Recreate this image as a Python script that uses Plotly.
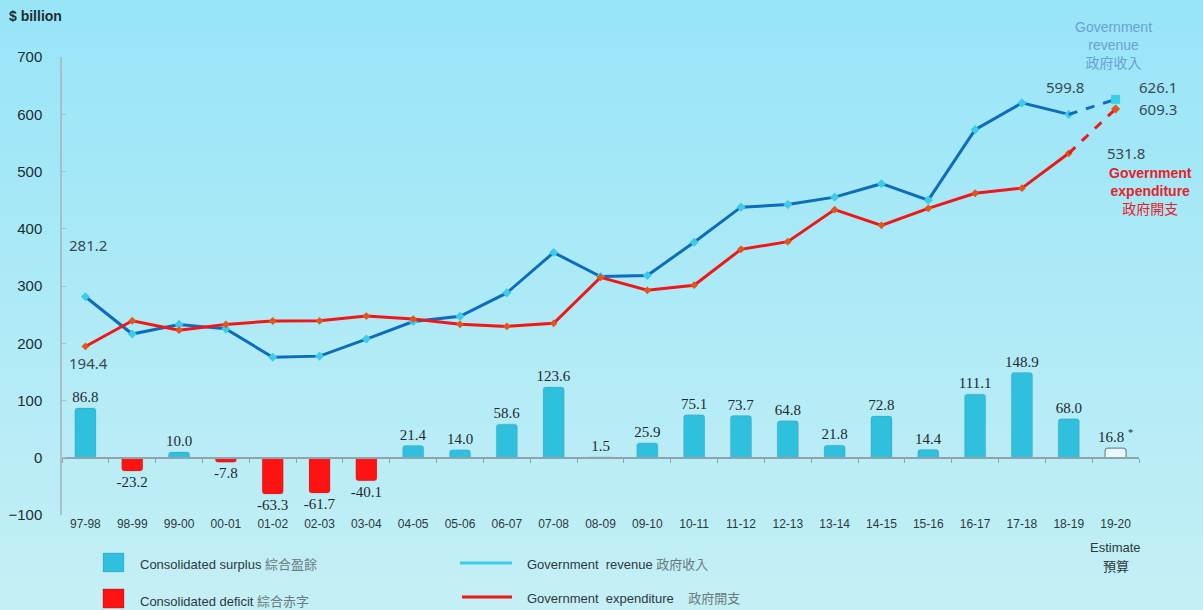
import plotly.graph_objects as go

# ---------------- data ----------------
categories = ["97-98", "98-99", "99-00", "00-01", "01-02", "02-03", "03-04", "04-05",
              "05-06", "06-07", "07-08", "08-09", "09-10", "10-11", "11-12", "12-13",
              "13-14", "14-15", "15-16", "16-17", "17-18", "18-19", "19-20"]
revenue = [281.2, 216.1, 232.9, 225.1, 175.6, 177.5, 207.3, 238.0, 247.0, 288.0,
           358.5, 316.6, 318.4, 376.5, 437.7, 442.2, 455.2, 478.7, 450.0, 573.1,
           619.8, 599.8, 626.1]
expenditure = [194.4, 239.3, 222.9, 232.9, 238.9, 239.2, 247.4, 242.2, 233.0, 229.4,
               234.8, 315.1, 292.5, 301.4, 364.0, 377.4, 433.4, 405.9, 435.6, 462.0,
               470.9, 531.8, 609.3]
balance = [86.8, -23.2, 10.0, -7.8, -63.3, -61.7, -40.1, 21.4, 14.0, 58.6, 123.6, 1.5,
           25.9, 75.1, 73.7, 64.8, 21.8, 72.8, 14.4, 111.1, 148.9, 68.0, 16.8]
y_ticks = [-100, 0, 100, 200, 300, 400, 500, 600, 700]

# ---------------- geometry helpers ----------------
W, H = 1203, 610
ML, MR, MT, MB = 62, 64, 57, 95
PW, PH = W - ML - MR, H - MT - MB


def px(x):
    return (x - ML) / PW


def py(y):
    return (H - MB - y) / PH


n = len(categories)
last = n - 1

SURPLUS = "#2fc0de"
DEFICIT = "#ff1212"
REV_LINE = "#0b6dbb"
EXP_LINE = "#ef1717"
REV_MK = "#3ccbe8"
EXP_MK = "#e0561c"
LBL = "#3a4a52"
SANS = "Liberation Sans, Arial, sans-serif"
CJK = "Noto Sans CJK TC"

bar_colors = []
bar_lines = []
for i, v in enumerate(balance):
    if i == last:
        bar_colors.append("#eaf9fc")
        bar_lines.append("#6f8e96")
    else:
        bar_colors.append(SURPLUS if v >= 0 else DEFICIT)
        bar_lines.append("rgba(0,0,0,0.08)")
bar_text = [f"{v:.1f}" for v in balance]
bar_text[last] = bar_text[last] + " <sup>*</sup>"

fig = go.Figure()

# background gradient
top = (152, 229, 248)
bot = (196, 239, 245)
bands = 40
y_lo, y_hi = -MB / PH, 1 + MT / PH
for k in range(bands):
    t = k / (bands - 1)
    c = tuple(round(top[j] + (bot[j] - top[j]) * t) for j in range(3))
    fig.add_shape(type="rect", xref="paper", yref="paper",
                  x0=-ML / PW - 0.01, x1=1 + MR / PW + 0.01,
                  y1=y_hi - (y_hi - y_lo) * k / bands,
                  y0=y_hi - (y_hi - y_lo) * (k + 1) / bands - 0.002,
                  fillcolor=f"rgb{c}", line_width=0, layer="below")

# bars
fig.add_trace(go.Bar(
    x=categories, y=balance, width=0.45,
    marker=dict(color=bar_colors, line=dict(color=bar_lines, width=1.2), cornerradius=3),
    text=bar_text, textposition="outside", constraintext="none", cliponaxis=False,
    textfont=dict(family="Liberation Serif, Times New Roman, serif", size=15, color="#1c2a30"),
    showlegend=False, hoverinfo="skip"))

# revenue line (actual, solid) + estimate (dashed)
fig.add_trace(go.Scatter(
    x=categories[:last], y=revenue[:last], mode="lines+markers",
    line=dict(color=REV_LINE, width=3),
    marker=dict(color=REV_MK, size=7, symbol="diamond"),
    showlegend=False, hoverinfo="skip"))
fig.add_trace(go.Scatter(
    x=categories[last - 1:], y=revenue[last - 1:], mode="lines",
    line=dict(color=REV_LINE, width=3, dash="dash"),
    showlegend=False, hoverinfo="skip"))
fig.add_trace(go.Scatter(
    x=categories[last:], y=revenue[last:], mode="markers",
    marker=dict(color=REV_MK, size=9, symbol="square"),
    showlegend=False, hoverinfo="skip"))

# expenditure line
fig.add_trace(go.Scatter(
    x=categories[:last], y=expenditure[:last], mode="lines+markers",
    line=dict(color=EXP_LINE, width=3),
    marker=dict(color=EXP_MK, size=6, symbol="diamond"),
    showlegend=False, hoverinfo="skip"))
fig.add_trace(go.Scatter(
    x=categories[last - 1:], y=expenditure[last - 1:], mode="lines",
    line=dict(color=EXP_LINE, width=3, dash="dash"),
    showlegend=False, hoverinfo="skip"))
fig.add_trace(go.Scatter(
    x=categories[last:], y=expenditure[last:], mode="markers",
    marker=dict(color=EXP_MK, size=7, symbol="diamond"),
    showlegend=False, hoverinfo="skip"))

# invisible trace carrying the zero-line axis (boundary ticks)
fig.add_trace(go.Scatter(x=categories, y=balance, mode="none", xaxis="x2",
                         showlegend=False, hoverinfo="skip"))

ann = []
lab_font = dict(family="Noto Sans, sans-serif", size=15, color=LBL)


def vlabel(idx, series, dx, dy):
    ann.append(dict(x=categories[idx], y=series[idx], xref="x", yref="y",
                    text=f"{series[idx]:.1f}", showarrow=False,
                    xshift=dx, yshift=dy, font=lab_font))


vlabel(0, revenue, 3, 52)
vlabel(0, expenditure, 3, -17)
vlabel(last - 1, revenue, -4, 27)
vlabel(last, revenue, 42, 12)
vlabel(last, expenditure, 42, 0)
vlabel(last - 1, expenditure, 57, 0)

# series captions top-right
ann.append(dict(x=px(1113), y=py(17), xref="paper", yref="paper", xanchor="center", yanchor="top",
                showarrow=False, align="center",
                text="Government<br>revenue<br><span style='font-family:Noto Sans CJK TC'>政府收入</span>",
                font=dict(family=SANS, size=14, color="#6c9fd6")))
ann.append(dict(x=px(1150), y=py(163), xref="paper", yref="paper", xanchor="center", yanchor="top",
                showarrow=False, align="center",
                text="<b>Government<br>expenditure</b><br><span style='font-family:Noto Sans CJK TC'>政府開支</span>",
                font=dict(family=SANS, size=14, color="#e3232b")))

# unit label
ann.append(dict(x=px(7), y=py(16), xref="paper", yref="paper", xanchor="left", yanchor="middle",
                showarrow=False, text="<b>$ billion</b>",
                font=dict(family=SANS, size=14, color="#1e2c34")))

# estimate note under last category
ann.append(dict(x=categories[last], y=py(547), xref="x", yref="paper", yanchor="middle",
                showarrow=False,
                text="Estimate", font=dict(family=SANS, size=13, color="#2c3a40")))
ann.append(dict(x=categories[last], y=py(565), xref="x", yref="paper", yanchor="middle",
                showarrow=False,
                text="預算", font=dict(family=CJK, size=13, color="#2c3a40")))

# custom legend
leg_font = dict(family=SANS, size=13, color="#2c3a40")
shapes_extra = [
    dict(type="rect", xref="paper", yref="paper", x0=px(103), x1=px(124), y0=py(572), y1=py(553),
         fillcolor=SURPLUS, line=dict(color="rgba(0,0,0,0.1)", width=1)),
    dict(type="rect", xref="paper", yref="paper", x0=px(103), x1=px(124), y0=py(608), y1=py(589),
         fillcolor=DEFICIT, line=dict(color="rgba(120,0,0,0.3)", width=1)),
    dict(type="line", xref="paper", yref="paper", x0=px(460), x1=px(512), y0=py(563), y1=py(563),
         line=dict(color=REV_MK, width=3)),
    dict(type="line", xref="paper", yref="paper", x0=px(462), x1=px(512), y0=py(597), y1=py(597),
         line=dict(color=EXP_LINE, width=3)),
]
for s in shapes_extra:
    fig.add_shape(**s)

legend_items = [
    (138, 563, "Consolidated surplus <span style='font-family:Noto Sans CJK TC;color:#6a7a80'>綜合盈餘</span>"),
    (138, 600, "Consolidated deficit <span style='font-family:Noto Sans CJK TC;color:#6a7a80'>綜合赤字</span>"),
    (525, 563, "Government  revenue <span style='font-family:Noto Sans CJK TC;color:#6a7a80'>政府收入</span>"),
    (525, 597, "Government  expenditure    <span style='font-family:Noto Sans CJK TC;color:#6a7a80'>政府開支</span>"),
]
for lx, ly, txt in legend_items:
    ann.append(dict(x=px(lx), y=py(ly), xref="paper", yref="paper", xanchor="left", yanchor="middle",
                    showarrow=False, text=txt, font=leg_font))

fig.update_layout(
    width=W, height=H,
    margin=dict(l=ML, r=MR, t=MT, b=MB, pad=0, autoexpand=False),
    paper_bgcolor="#a8e8f6",
    plot_bgcolor="rgba(0,0,0,0)",
    bargap=0.55,
    showlegend=False,
    annotations=ann,
    xaxis=dict(type="category", categoryorder="array", categoryarray=categories,
               range=[-0.5, n - 0.5], showline=False, showgrid=False, zeroline=False,
               automargin=False,
               ticks="", tickfont=dict(family=SANS, size=12, color="#2c3a40")),
    xaxis2=dict(type="category", categoryorder="array", categoryarray=categories,
                range=[-0.5, n - 0.5], overlaying="x", anchor="free",
                position=(0 - y_ticks[0]) / (y_ticks[-1] - y_ticks[0]),
                showline=True, linecolor="#8ea4ab", linewidth=1.5,
                ticks="outside", tickson="boundaries", ticklen=4, tickcolor="#8ea4ab",
                showticklabels=False, showgrid=False, zeroline=False, automargin=False),
    yaxis=dict(range=[y_ticks[0], y_ticks[-1]], tickvals=y_ticks, showgrid=False, zeroline=False,
               showline=True, linecolor="#a9bfc6", linewidth=1.5, automargin=False,
               ticks="inside", ticklen=4, tickcolor="#a9bfc6",
               ticklabelstandoff=15,
               tickfont=dict(family=SANS, size=15, color="#1e2c34")),
)

fig.write_html("out.html", config={"displayModeBar": False},
               post_script="document.body.style.margin='0';document.body.style.overflow='hidden';")
